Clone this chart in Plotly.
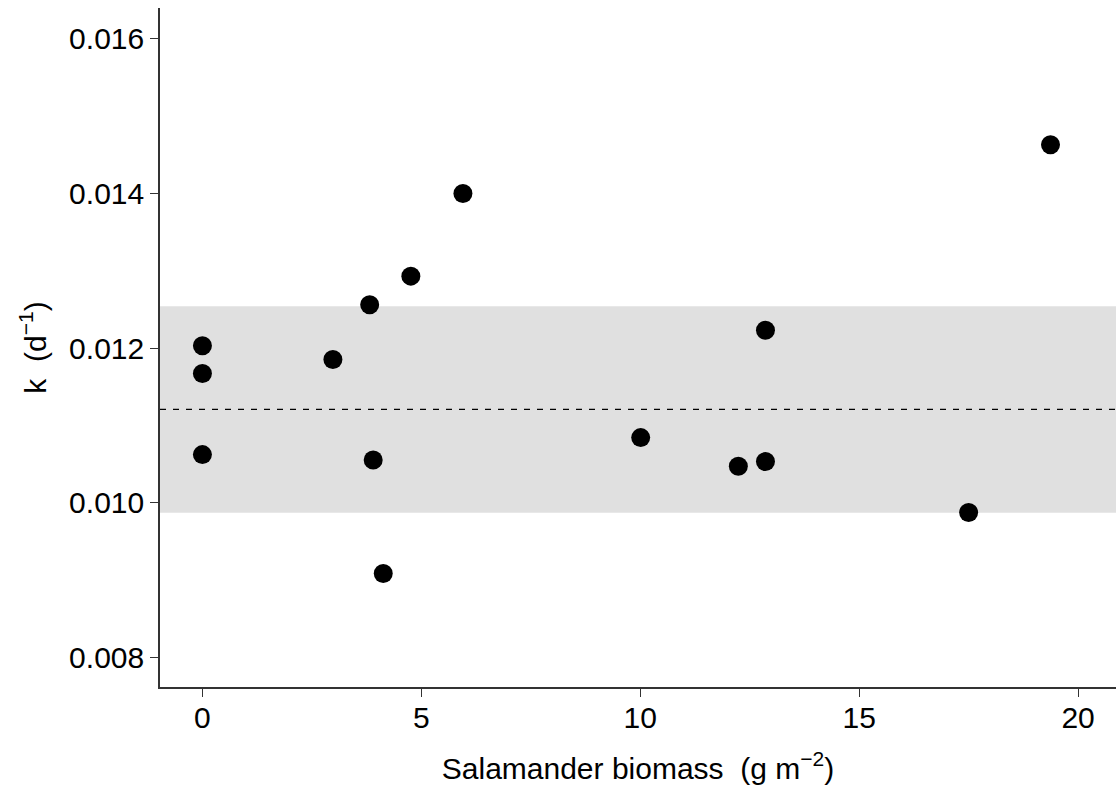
import plotly.graph_objects as go

# Salamander biomass (g m^-2) and litter decay rate k (d^-1)
biomass = [0.0, 0.0, 0.0, 2.98, 3.82, 3.90, 4.13, 4.76, 5.95,
           10.01, 12.24, 12.86, 12.86, 17.50, 19.37]
decay_k = [0.01203, 0.01167, 0.01062, 0.01185, 0.01256, 0.01055, 0.00908, 0.01293, 0.01400,
           0.01084, 0.01047, 0.01053, 0.01223, 0.00987, 0.01463]

# Reference mean and its interval
ref_mean = 0.011206
ref_low = 0.009867
ref_high = 0.012540

x_ticks = [0, 5, 10, 15, 20]
y_ticks = [0.008, 0.010, 0.012, 0.014, 0.016]
y_tick_text = ["0.008", "0.010", "0.012", "0.014", "0.016"]

FONT = "Liberation Sans, Arial, sans-serif"

fig = go.Figure()

fig.add_trace(go.Scatter(
    x=biomass, y=decay_k, mode="markers",
    marker=dict(size=19, color="black", line=dict(width=0)),
    showlegend=False, cliponaxis=False,
))

# shaded interval across the full panel
fig.add_shape(type="rect", xref="paper", x0=0, x1=1, yref="y",
              y0=ref_low, y1=ref_high, fillcolor="#E0E0E0",
              line=dict(width=0), layer="below")
# dashed mean line
fig.add_shape(type="line", xref="paper", x0=0, x1=1, yref="y",
              y0=ref_mean, y1=ref_mean,
              line=dict(color="black", width=1.3, dash="6px,7px"), layer="below")

fig.update_layout(
    width=1116, height=794,
    margin=dict(l=160, r=0, t=8, b=107, pad=0),
    paper_bgcolor="white", plot_bgcolor="white",
    font=dict(family=FONT, size=30, color="black"),
    xaxis=dict(
        range=[-0.969, 20.866], tickvals=x_ticks,
        ticks="outside", ticklen=8, tickwidth=1.2, tickcolor="#333333",
        showline=True, linecolor="#333333", linewidth=1.6,
        showgrid=False, zeroline=False,
        tickfont=dict(size=30, color="black"),
        ticklabelstandoff=-5,
        title=dict(text="Salamander biomass\u00a0\u00a0(g m<sup>\u22122</sup>)",
                   font=dict(size=30), standoff=25),
    ),
    yaxis=dict(
        range=[0.007612, 0.016401], tickvals=y_ticks, ticktext=y_tick_text,
        ticks="outside", ticklen=8, tickwidth=1.2, tickcolor="#333333",
        showline=True, linecolor="#333333", linewidth=1.6,
        showgrid=False, zeroline=False,
        tickfont=dict(size=30, color="black"),
        title=dict(text="k\u00a0\u00a0(d<sup>\u22121</sup>)",
                   font=dict(size=30), standoff=14),
    ),
)

fig.write_html("out.html")
